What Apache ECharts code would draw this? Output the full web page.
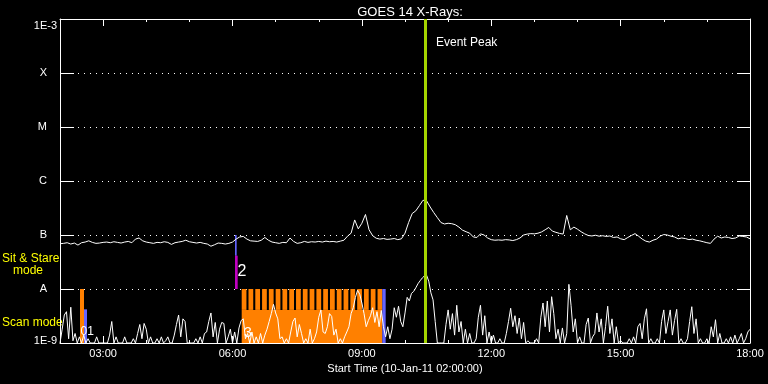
<!DOCTYPE html>
<html><head><meta charset="utf-8">
<script src="https://cdn.jsdelivr.net/npm/echarts@6/dist/echarts.min.js"></script>
<style>html,body{margin:0;padding:0;background:#000}#c{width:768px;height:384px}</style>
</head><body><div id="c"></div>
<script>
// ---------- data ----------
const chartTitle = 'GOES 14 X-Rays:';
const axisTitle = 'Start Time (10-Jan-11 02:00:00)';
const startTime = '02:00:00';
const endTime = '18:00:00';
const xTickLabels = ['03:00', '06:00', '09:00', '12:00', '15:00', '18:00'];
const xMinorTicks = ['03:00','04:00','05:00','06:00','07:00','08:00','09:00','10:00','11:00','12:00','13:00','14:00','15:00','16:00','17:00'];
const xMajorTicks = ['03:00', '06:00', '09:00', '12:00', '15:00'];
// flux in units of 1e-9 W/m^2; tick labels per decade
const yTickLabels = ['1E-9', 'A', 'B', 'C', 'M', 'X', '1E-3'];
const fluxMin = 1, fluxMax = 1e6;

// long channel (upper curve), 5-minute samples from 02:00
const upperStart = '02:00:00', upperStepMin = 5;
const upperFlux = [
 69,70,72,68,71,65,72,74,78,73,
 70,71,73,74,72,75,73,71,74,76,
 72,84,88,78,74,72,70,73,72,75,
 73,67,72,74,76,80,75,73,71,73,
 70,68,62,66,71,70,68,70,74,84,
 92,94,84,78,77,76,80,90,80,74,
 72,70,73,72,88,76,70,72,76,73,
 75,74,76,74,77,75,76,74,77,80,
 95,108,190,130,165,240,125,97,87,84,
 86,83,84,86,82,85,108,170,250,280,
 350,440,430,330,260,210,170,160,165,162,
 155,140,123,115,108,92,90,105,100,88,
 82,80,81,80,82,81,79,82,88,100,
 104,106,105,108,114,125,138,118,112,107,
 104,230,125,140,128,115,105,98,96,99,
 95,97,94,96,90,92,85,82,90,98,
 106,95,84,77,74,80,84,95,102,100,
 95,92,85,88,86,82,84,80,78,75,
 72,70,84,95,88,92,90,86,88,96,
 94,92,85
];
// short channel (lower curve), 3-minute samples from 02:00
const lowerStart = '02:00:00', lowerStepMin = 3;
const lowerFlux = [
 1,1.8,3.3,3.8,1.2,4.6,1.1,1.5,1,1.3,
 1,1.4,1,1.2,1,1,1,1.3,1,1,
 1,1,1,1.4,2.5,1,1.3,1,1,1,
 1.3,1,1,1,1.2,1,1.5,2.2,1.2,2.3,
 1.8,1,1.3,1,1,1.2,1,1.3,1,1.1,
 1.3,1,1,1.4,2.2,3.3,1.3,2.8,2.5,1,
 1,1,1,1.2,1,1.3,1,1.5,1.6,2.5,
 3.6,1.3,2.4,1,1.8,2.4,2.3,1,1.3,1.8,
 1,1.6,1,1.9,2.6,2.8,1.2,1.5,1,1.6,
 1,1.3,1,1.5,1,1.4,1.8,2.5,3.5,5.2,
 3.6,2.8,1.2,1.3,1,1.2,1,1.6,2.5,2.9,
 1.3,2.2,1.5,1,1.2,1,1.8,1,1.2,1.6,
 3.0,4.1,1.6,1.5,2.0,3.5,3.1,1.4,1.8,1,
 1.2,1,1.3,1.6,2.0,3.5,4.5,7.0,9.5,8.0,
 5.5,3.5,2.0,2.6,3.2,4.5,2.4,3.8,2.0,4.0,
 2.0,1.3,2.0,1.2,1.8,4.5,3.0,4.8,2.5,2.0,
 3.6,7.0,6.0,8.3,9.0,10.5,12.5,14.2,16,17.5,
 18,14,8.5,6.3,2.5,1,1,1,1,2.2,
 4.1,1.8,3.5,1.4,5.0,1.6,2.5,1,1.8,1,
 1.5,1,1,1.2,3.0,5.0,1.4,3.2,1,1.6,
 1,1.4,1,1,1.2,1,1,1.5,2.5,4.4,
 2.0,3.2,1.5,2.9,1.2,2.4,1,1.1,1,1,
 1,1.2,1,3.0,5.5,2.0,6.0,1.6,7.2,3.5,
 1.2,1.8,1,1.9,1,1.5,12.2,5.0,1.6,2.8,
 1,1.3,1,1,2.2,2.9,1,1.3,1.5,3.6,
 1.6,2.8,1,2.0,4.8,1.5,2.8,1,2.0,1,
 1.1,1,1,1,1.2,1,1.3,1,2.0,2.3,
 1.2,2.8,4.3,1,1.2,1,1,1.2,1,2.5,
 4.1,1.5,2.5,4.1,1.4,2.6,4.2,1,1.2,1,
 1,1.2,2.5,4.7,1.5,2.8,1,1.2,1,1,
 1.2,1,2.0,1.3,2.7,1,1.5,1,1,1.2,
 1,1.3,1,1.4,1,1.2,1.5,1,1.2,1.6,
 1.8
];
const eventPeakTime = '10:27:50';
const eventPeakLabel = 'Event Peak';

// instrument mode marks: [start, end, fluxLow, fluxHigh]
const scanBlocks = [
 ['02:27:50', '02:33:24', 1, 10],
 ['06:12:48', '09:28:24', 1, 4.1]
];
const scanTeeth = [
 ['06:12:48','06:19:24'],['06:22:15','06:28:51'],['06:31:42','06:38:18'],['06:41:09','06:47:45'],
 ['06:50:36','06:57:12'],['07:00:03','07:06:39'],['07:09:30','07:16:06'],['07:18:57','07:25:33'],
 ['07:28:24','07:35:00'],['07:37:51','07:44:27'],['07:47:18','07:53:54'],['07:56:45','08:03:21'],
 ['08:06:12','08:12:48'],['08:15:39','08:22:15'],['08:25:06','08:31:42'],['08:34:33','08:41:09'],
 ['08:44:00','08:50:36'],['08:53:27','09:00:03'],['09:02:54','09:09:30'],['09:12:21','09:18:57'],
 ['09:21:48','09:28:24']
];
const scanTeethLow = 4.1, scanTeethHigh = 10;
const blueMarks = [
 ['02:33:24', '02:37:36', 1, 4.2],
 ['06:03:30', '06:05:48', 41.4, 100],
 ['09:28:24', '09:33:06', 1, 10]
];
const stareMarks = [
 ['06:03:30', '06:07:12', 10, 41.4]
];
// [time, flux, text, size]
const modeLabels = [
 ['02:28:30', 1.6, '01', 12],
 ['06:07:00', 20.6, '2', 16],
 ['06:16:00', 1.55, '3', 14]
];
const sideLabels = [
 ['Sit & Stare', 2, 260], ['mode', 13, 272], ['Scan mode', 2, 324]
];

// ---------- helpers ----------
function tm(s) { const p = s.split(':').map(Number); return p[0] * 60 + p[1] + (p[2] || 0) / 60; }
function fmt(m) { const h = Math.floor(m / 60), mi = Math.round(m % 60); return (h < 10 ? '0' : '') + h + ':' + (mi < 10 ? '0' : '') + mi; }
const FONT = 'Liberation Sans';
const WHITE = '#ffffff';

const upperData = upperFlux.map((v, i) => [tm(upperStart) + i * upperStepMin, v]);
const lowerData = lowerFlux.map((v, i) => [tm(lowerStart) + i * lowerStepMin, v]);
const toRect = a => [tm(a[0]), tm(a[1]), a[2], a[3]];
const orangeData = scanBlocks.map(toRect).concat(scanTeeth.map(t => [tm(t[0]), tm(t[1]), scanTeethLow, scanTeethHigh]));
const blueData = blueMarks.map(toRect);
const magentaData = stareMarks.map(toRect);

function rectRender(params, api) {
  const a = api.coord([api.value(0), api.value(3)]);
  const b = api.coord([api.value(1), api.value(2)]);
  return { type: 'rect', shape: { x: a[0], y: a[1], width: b[0] - a[0], height: b[1] - a[1] },
    style: { fill: api.visual('color') } };
}
function rectSeries(data, color) {
  return { type: 'custom', renderItem: rectRender, data: data, xAxisIndex: 0, yAxisIndex: 0,
    itemStyle: { color: color }, z: 2, silent: true, clip: true,
    encode: { x: [0, 1], y: [2, 3] } };
}

const xMin = tm(startTime), xMax = tm(endTime);
const baseX = { type: 'value', min: xMin, max: xMax, splitLine: { show: false },
  axisLine: { show: false }, axisLabel: { show: false } };
const tickStyle = { color: WHITE, width: 1 };

const option = {
  backgroundColor: '#000000',
  animation: false,
  title: { text: chartTitle, left: 405, top: 1, textAlign: 'center',
    textStyle: { color: WHITE, fontSize: 13, fontWeight: 'normal', fontFamily: FONT } },
  grid: { left: 60, right: 18, top: 19, bottom: 41 },
  xAxis: [
    Object.assign({}, baseX, { position: 'bottom',
      axisLine: { show: true, lineStyle: { color: WHITE, width: 1 } },
      axisTick: { show: true, inside: true, length: 3, lineStyle: tickStyle, customValues: xMinorTicks.map(tm) },
      axisLabel: { show: true, customValues: xTickLabels.map(tm), formatter: v => fmt(v),
        color: WHITE, fontSize: 11, fontFamily: FONT, margin: 5 },
      name: axisTitle, nameLocation: 'middle', nameGap: 20,
      nameTextStyle: { color: WHITE, fontSize: 11, fontFamily: FONT } }),
    Object.assign({}, baseX, { position: 'bottom',
      axisTick: { show: true, inside: true, length: 7, lineStyle: tickStyle, customValues: xMajorTicks.map(tm) } }),
    Object.assign({}, baseX, { position: 'top',
      axisLine: { show: true, lineStyle: { color: WHITE, width: 1 } },
      axisTick: { show: true, inside: true, length: 3, lineStyle: tickStyle, customValues: xMinorTicks.map(tm) } }),
    Object.assign({}, baseX, { position: 'top',
      axisTick: { show: true, inside: true, length: 7, lineStyle: tickStyle, customValues: xMajorTicks.map(tm) } })
  ],
  yAxis: [
    { type: 'log', logBase: 10, min: fluxMin, max: fluxMax, splitNumber: 6, position: 'left',
      axisLine: { show: true, lineStyle: { color: WHITE, width: 1 } },
      axisTick: { show: true, inside: true, length: 14, lineStyle: tickStyle },
      axisLabel: { color: WHITE, fontSize: 11, fontFamily: FONT, margin: 3,
        formatter: v => {
          const e = Math.round(Math.log10(v));
          const s = yTickLabels[e];
          if (e === 6) return '{top|' + s + '}';
          if (e === 0) return '{bot|' + s + '}';
          return '{l|' + s + '}';
        },
        rich: {
          top: { color: WHITE, fontSize: 11, fontFamily: FONT, padding: [14, 0, 0, 0] },
          bot: { color: WHITE, fontSize: 11, fontFamily: FONT, padding: [0, 0, 4, 0] },
          l: { color: WHITE, fontSize: 11, fontFamily: FONT, padding: [0, 10, 0, 0] }
        } },
      splitLine: { show: true, lineStyle: { color: WHITE, width: 1, type: [1, 5] } } },
    { type: 'log', logBase: 10, min: fluxMin, max: fluxMax, splitNumber: 6, position: 'right',
      axisLine: { show: true, lineStyle: { color: WHITE, width: 1 } },
      axisTick: { show: true, inside: true, length: 13, lineStyle: tickStyle },
      axisLabel: { show: false }, splitLine: { show: false } }
  ],
  series: [
    rectSeries(orangeData, '#ff8000'),
    rectSeries(blueData, '#6464ff'),
    rectSeries(magentaData, '#c000c0'),
    { type: 'line', data: lowerData, showSymbol: false, symbol: 'none', clip: true, z: 3,
      lineStyle: { color: WHITE, width: 1 }, silent: true },
    { type: 'line', data: upperData, showSymbol: false, symbol: 'none', clip: true, z: 3,
      lineStyle: { color: WHITE, width: 1 }, silent: true },
    { type: 'line', data: [], z: 5, silent: true,
      markLine: { symbol: 'none', silent: true, animation: false,
        label: { show: false },
        lineStyle: { color: '#a4d400', width: 3, type: 'solid' },
        data: [{ xAxis: tm(eventPeakTime) }] } },
    { type: 'custom', z: 6, silent: true, data: modeLabels.map(d => [tm(d[0]), d[1], d[3], d[2]]),
      renderItem: (params, api) => {
        const p = api.coord([api.value(0), api.value(1)]);
        const d = modeLabels[params.dataIndex];
        return { type: 'text', x: p[0], y: p[1],
          style: { text: d[2], fill: WHITE, fontSize: d[3], fontFamily: FONT, align: 'left', verticalAlign: 'middle' } };
      } }
  ],
  graphic: sideLabels.map(s => ({ type: 'text', left: s[1], top: s[2] - 7,
      style: { text: s[0], fill: '#ffff00', fontSize: 12, fontFamily: FONT } }))
    .concat([{ type: 'text', left: 436, top: 37,
      style: { text: eventPeakLabel, fill: WHITE, fontSize: 12, fontFamily: FONT } }])
};
const chart = echarts.init(document.getElementById('c'), null, { renderer: 'canvas' });
chart.setOption(option);
</script></body></html>
